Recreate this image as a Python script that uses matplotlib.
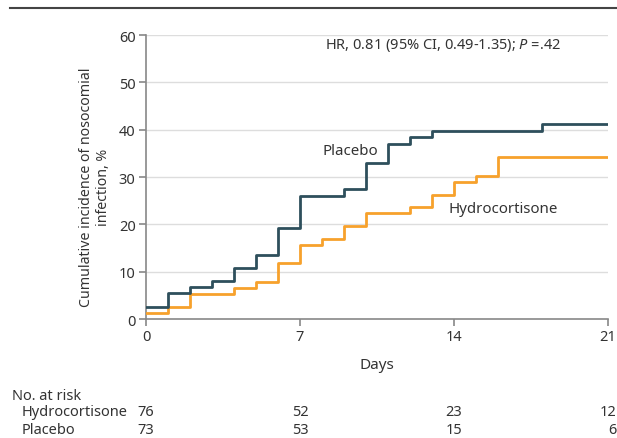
import matplotlib
matplotlib.use("Agg")
import matplotlib.pyplot as plt
from matplotlib import font_manager

names = {f.name for f in font_manager.fontManager.ttflist}
fam = [n for n in ["Noto Sans", "Open Sans", "DejaVu Sans"] if n in names]
plt.rcParams['font.family'] = fam
plt.rcParams['mathtext.fontset'] = 'custom'
plt.rcParams['mathtext.it'] = fam[0] + ':italic'
plt.rcParams['mathtext.rm'] = fam[0]

TXT = '#333333'
FS = 10.5

# Data
placebo_days = [0, 1, 2, 3, 4, 5, 6, 7, 9, 10, 11, 12, 13, 18, 21]
placebo_vals = [2.6, 5.4, 6.7, 8.1, 10.8, 13.6, 19.2, 26.0, 27.4, 32.9, 37.0, 38.4, 39.7, 41.1, 41.1]
hydro_days = [0, 1, 2, 4, 5, 6, 7, 8, 9, 10, 12, 13, 14, 15, 16, 21]
hydro_vals = [1.2, 2.5, 5.3, 6.5, 7.9, 11.8, 15.7, 17.0, 19.7, 22.3, 23.7, 26.3, 29.0, 30.3, 34.2, 34.2]

risk_days = [0, 7, 14, 21]
risk_hydro = [76, 52, 23, 12]
risk_placebo = [73, 53, 15, 6]
x_ticks = [0, 7, 14, 21]
y_ticks = [0, 10, 20, 30, 40, 50, 60]

W, H = 617, 439
fig = plt.figure(figsize=(W / 100, H / 100), dpi=100)
ax = fig.add_axes([146 / W, 1 - 320 / H, (608 - 146) / W, (320 - 36) / H])

for y in y_ticks[1:]:
    ax.axhline(y, color='#dddddd', lw=1, zorder=0)

ax.step(hydro_days, hydro_vals, where='post', color='#f7a12c', lw=2, zorder=3)
ax.step(placebo_days, placebo_vals, where='post', color='#2e4f5c', lw=2, zorder=4)

ax.set_xlim(0, 21)
ax.set_ylim(0, 60)
ax.set_xticks(x_ticks)
ax.set_yticks(y_ticks)
for s in ['top', 'right']:
    ax.spines[s].set_visible(False)
for s in ['left', 'bottom']:
    ax.spines[s].set_color('#888888')
    ax.spines[s].set_linewidth(1.2)
ax.tick_params(axis='both', colors='#888888', labelcolor=TXT, labelsize=FS, length=5, width=1.2, pad=2.5)
ax.set_xlabel('Days', color=TXT, fontsize=FS + 0.5, labelpad=9)
ax.set_ylabel('Cumulative incidence of nosocomial\ninfection, %', color=TXT, fontsize=10.2,
              linespacing=1.25)
ax.yaxis.set_label_coords(-0.075, 0.468)

ax.text((325 - 146) / 22, 58, 'HR, 0.81 (95% CI, 0.49-1.35); $\\it{P}$ =.42',
        color=TXT, fontsize=10.5, va='center', ha='left')
ax.text((322 - 146) / 22, 35.5, 'Placebo', color=TXT, fontsize=FS + 0.3, va='center', ha='left')
ax.text((449 - 146) / 22, 23.3, 'Hydrocortisone', color=TXT, fontsize=FS + 0.3, va='center', ha='left')

# top rule
fig.add_artist(plt.Line2D([10 / W, 1], [1 - 9 / H, 1 - 9 / H], color='#444444', lw=1.5))

# risk table
fig.text(12 / W, 1 - 397 / H, 'No. at risk', color=TXT, fontsize=FS, va='center', ha='left')
fig.text(22 / W, 1 - 413 / H, 'Hydrocortisone', color=TXT, fontsize=FS, va='center', ha='left')
fig.text(22 / W, 1 - 431 / H, 'Placebo', color=TXT, fontsize=FS, va='center', ha='left')
trans = matplotlib.transforms.blended_transform_factory(ax.transData, fig.transFigure)
off = matplotlib.transforms.ScaledTranslation(8.5 / 100, 0, fig.dpi_scale_trans)
for d, a, b in zip(risk_days, risk_hydro, risk_placebo):
    fig.text(d, 1 - 413 / H, str(a), transform=trans + off, color=TXT, fontsize=FS, va='center', ha='right')
    fig.text(d, 1 - 431 / H, str(b), transform=trans + off, color=TXT, fontsize=FS, va='center', ha='right')

fig.savefig('out.png', dpi=100)
